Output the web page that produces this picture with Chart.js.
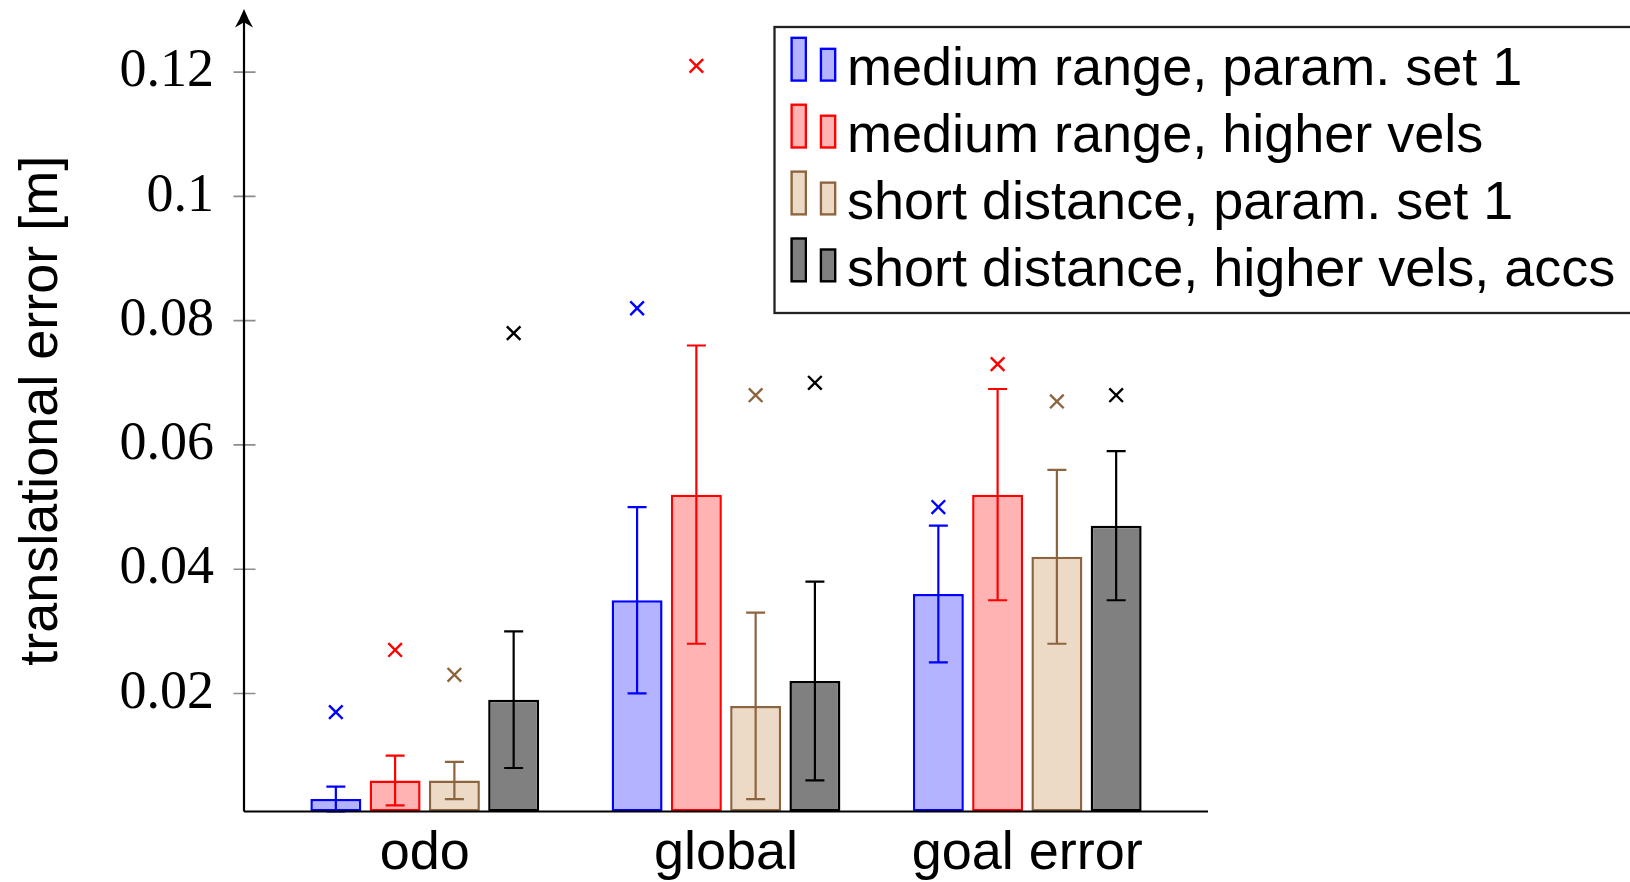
<!DOCTYPE html>
<html>
<head>
<meta charset="utf-8">
<script src="https://cdn.jsdelivr.net/npm/chart.js@4.4.1/dist/chart.umd.min.js"></script>
<style>
  html, body { margin: 0; padding: 0; background: #ffffff; }
  #wrap { width: 1630px; height: 882px; position: relative; }
  canvas { display: block; }
</style>
</head>
<body>
<div id="wrap"><canvas id="chart" width="1630" height="882"></canvas></div>
<script>
// ---- data ----
const categories = ['odo', 'global', 'goal error'];
const seriesLabels = [
  'medium range, param. set 1',
  'medium range, higher vels',
  'short distance, param. set 1',
  'short distance, higher vels, accs'
];

// mean translational error per category
const meanMediumParam = [0.003, 0.035, 0.036];
const meanMediumVels  = [0.006, 0.052, 0.052];
const meanShortParam  = [0.006, 0.018, 0.042];
const meanShortVels   = [0.019, 0.022, 0.047];

// standard deviation (error bar half-length)
const sdMediumParam = [0.002, 0.015, 0.011];
const sdMediumVels  = [0.004, 0.024, 0.017];
const sdShortParam  = [0.003, 0.015, 0.014];
const sdShortVels   = [0.011, 0.016, 0.012];

// maximum error (cross markers)
const maxMediumParam = [0.017, 0.082, 0.050];
const maxMediumVels  = [0.027, 0.121, 0.073];
const maxShortParam  = [0.023, 0.068, 0.067];
const maxShortVels   = [0.078, 0.070, 0.068];

const yTickValues = [0.02, 0.04, 0.06, 0.08, 0.1, 0.12];
const yTickLabels = ['0.02', '0.04', '0.06', '0.08', '0.1', '0.12'];

// ---- styles ----
const lineColors = ['rgb(0,0,255)', 'rgb(255,0,0)', 'rgb(140,100,62)', 'rgb(0,0,0)'];
const fillColors = ['rgb(179,179,255)', 'rgb(255,179,179)', 'rgb(236,217,198)', 'rgb(128,128,128)'];

const means = [meanMediumParam, meanMediumVels, meanShortParam, meanShortVels];
const sds   = [sdMediumParam, sdMediumVels, sdShortParam, sdShortVels];
const maxes = [maxMediumParam, maxMediumVels, maxShortParam, maxShortVels];

const X_MIN = -0.6, X_MAX = 2.6;
const Y_MIN = 0.001, Y_MAX = 0.13;

const SANS = "'Liberation Sans', Arial, Helvetica, sans-serif";
const SERIF = "'Liberation Serif', 'Times New Roman', serif";

const datasets = seriesLabels.map((label, k) => ({
  type: 'bar',
  label: label,
  data: means[k].map((v, i) => ({ x: i, y: v })),
  sd: sds[k],
  maxima: maxes[k],
  backgroundColor: fillColors[k],
  borderColor: lineColors[k],
  borderWidth: 2.5,
  borderSkipped: false,
  base: Y_MIN,
  categoryPercentage: 0.787,
  barPercentage: 0.86
}));

// error bars, max markers, axis lines with arrow, tick marks and legend box
const decorations = {
  id: 'decorations',
  afterDatasetsDraw(chart) {
    const ctx = chart.ctx;
    const ys = chart.scales.y;
    ctx.save();
    ctx.lineCap = 'butt';
    chart.data.datasets.forEach((ds, di) => {
      const meta = chart.getDatasetMeta(di);
      meta.data.forEach((bar, i) => {
        const x = bar.x;
        const m = ds.data[i].y;
        const yHi = ys.getPixelForValue(m + ds.sd[i]);
        const yLo = ys.getPixelForValue(m - ds.sd[i]);
        const cap = 9.5;
        ctx.strokeStyle = ds.borderColor;
        ctx.lineWidth = 2.2;
        ctx.beginPath();
        ctx.moveTo(x, yHi); ctx.lineTo(x, yLo);
        ctx.moveTo(x - cap, yHi); ctx.lineTo(x + cap, yHi);
        ctx.moveTo(x - cap, yLo); ctx.lineTo(x + cap, yLo);
        ctx.stroke();

        const ym = ys.getPixelForValue(ds.maxima[i]);
        const h = 6.8;
        ctx.lineWidth = 2.4;
        ctx.beginPath();
        ctx.moveTo(x - h, ym - h); ctx.lineTo(x + h, ym + h);
        ctx.moveTo(x - h, ym + h); ctx.lineTo(x + h, ym - h);
        ctx.stroke();
      });
    });
    ctx.restore();
  },
  afterDraw(chart) {
    const ctx = chart.ctx;
    const { left, right, top, bottom } = chart.chartArea;
    const ys = chart.scales.y;
    ctx.save();

    // y tick marks
    ctx.strokeStyle = '#8c8c8c';
    ctx.lineWidth = 1.6;
    ctx.beginPath();
    yTickValues.forEach(v => {
      const y = ys.getPixelForValue(v);
      ctx.moveTo(left - 10.5, y); ctx.lineTo(left + 11.5, y);
    });
    ctx.stroke();

    // axis lines
    ctx.strokeStyle = '#000';
    ctx.lineWidth = 2.2;
    ctx.beginPath();
    ctx.moveTo(left, bottom); ctx.lineTo(right, bottom);
    ctx.moveTo(left, bottom); ctx.lineTo(left, top + 10);
    ctx.stroke();

    // arrow head on y axis
    ctx.fillStyle = '#000';
    ctx.beginPath();
    ctx.moveTo(left, top - 1);
    ctx.quadraticCurveTo(left + 4.5, top + 10, left + 9, top + 17.5);
    ctx.lineTo(left + 1.2, top + 13);
    ctx.lineTo(left - 1.2, top + 13);
    ctx.lineTo(left - 9, top + 17.5);
    ctx.quadraticCurveTo(left - 4.5, top + 10, left, top - 1);
    ctx.closePath();
    ctx.fill();

    // legend
    const boxL = 774.5, boxT = 27, boxB = 313;
    ctx.fillStyle = '#fff';
    ctx.fillRect(boxL, boxT, chart.width - boxL + 5, boxB - boxT);
    ctx.strokeStyle = '#222';
    ctx.lineWidth = 2.3;
    ctx.strokeRect(boxL, boxT, chart.width - boxL + 5, boxB - boxT);

    const rowStep = 66.9;
    ctx.font = '54px ' + SANS;
    ctx.textBaseline = 'alphabetic';
    ctx.textAlign = 'left';
    chart.data.datasets.forEach((ds, k) => {
      const iconBottom = 81.7 + k * rowStep;
      const bw = 2.3;
      // tall swatch
      ctx.fillStyle = ds.backgroundColor;
      ctx.fillRect(790.5, iconBottom - 45, 16.5, 45);
      ctx.strokeStyle = ds.borderColor;
      ctx.lineWidth = bw;
      ctx.strokeRect(790.5 + bw / 2, iconBottom - 45 + bw / 2, 16.5 - bw, 45 - bw);
      // short swatch
      ctx.fillRect(819.8, iconBottom - 34, 16.5, 34);
      ctx.strokeRect(819.8 + bw / 2, iconBottom - 34 + bw / 2, 16.5 - bw, 34 - bw);
      ctx.fillStyle = '#000';
      ctx.fillText(ds.label, 847, 85 + k * rowStep);
    });
    ctx.restore();
  }
};

new Chart(document.getElementById('chart'), {
  type: 'bar',
  data: { datasets },
  options: {
    responsive: false,
    animation: false,
    events: [],
    layout: { padding: { top: 10, right: 422, left: 0, bottom: 0 } },
    plugins: {
      legend: { display: false },
      tooltip: { enabled: false },
      title: { display: false }
    },
    scales: {
      x: {
        type: 'linear',
        min: X_MIN,
        max: X_MAX,
        offset: false,
        grid: { display: false, drawTicks: false },
        border: { display: false },
        ticks: {
          padding: 10,
          color: '#000',
          maxRotation: 0,
          autoSkip: false,
          font: { family: SANS, size: 54 },
          callback: (value, index) => categories[index]
        },
        afterBuildTicks: s => { s.ticks = categories.map((_, i) => ({ value: i })); },
        afterFit: s => {
          s.height = 70.5;
          s.paddingLeft = 0; s.paddingRight = 0; s.paddingTop = 0; s.paddingBottom = 0;
        }
      },
      y: {
        type: 'linear',
        min: Y_MIN,
        max: Y_MAX,
        grid: { display: false, drawTicks: false },
        border: { display: false },
        ticks: {
          padding: 30,
          color: '#000',
          font: { family: SERIF, size: 54 },
          callback: (value, index) => yTickLabels[index]
        },
        afterBuildTicks: s => { s.ticks = yTickValues.map(v => ({ value: v })); },
        title: {
          display: true,
          text: 'translational error [m]',
          color: '#000',
          font: { family: SANS, size: 54 },
          padding: { top: 10, bottom: 0 }
        },
        afterFit: s => {
          s.width = 244;
          s.paddingLeft = 0; s.paddingRight = 0; s.paddingTop = 0; s.paddingBottom = 0;
        }
      }
    }
  },
  plugins: [decorations]
});
</script>
</body>
</html>
